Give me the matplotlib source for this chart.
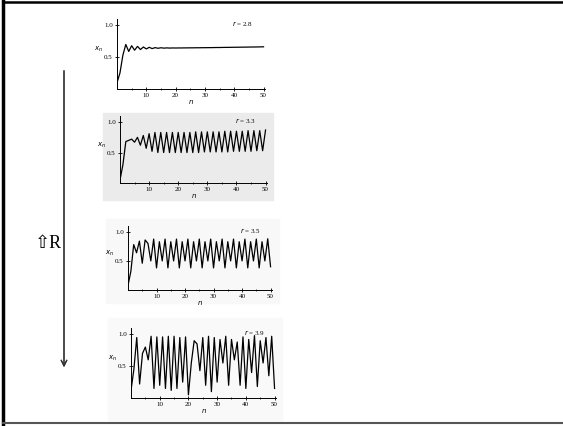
import matplotlib
matplotlib.use('Agg')
import matplotlib.pyplot as plt
from matplotlib.lines import Line2D
from matplotlib.patches import Rectangle

W, H = 563, 426

n = list(range(51))

x_r28 = [0.10, 0.25, 0.53, 0.70, 0.59, 0.68, 0.61, 0.67, 0.62, 0.66,
         0.63, 0.655, 0.635, 0.65, 0.64, 0.648, 0.642, 0.646, 0.643, 0.645,
         0.644, 0.645, 0.645, 0.646, 0.646, 0.647, 0.647, 0.648, 0.648, 0.649,
         0.649, 0.65, 0.65, 0.651, 0.652, 0.652, 0.653, 0.654, 0.654, 0.655,
         0.656, 0.656, 0.657, 0.658, 0.658, 0.659, 0.66, 0.66, 0.661, 0.662,
         0.663]

x_r33 = [0.05, 0.30, 0.68, 0.70, 0.72, 0.67, 0.75, 0.62, 0.78, 0.57,
         0.81, 0.52, 0.83, 0.50, 0.83, 0.50, 0.83, 0.50, 0.83, 0.50,
         0.83, 0.50, 0.83, 0.50, 0.83, 0.50, 0.84, 0.50, 0.84, 0.51,
         0.84, 0.51, 0.84, 0.51, 0.84, 0.51, 0.85, 0.51, 0.85, 0.52,
         0.85, 0.52, 0.85, 0.52, 0.86, 0.52, 0.86, 0.53, 0.86, 0.53,
         0.87]

x_r35 = [0.08, 0.32, 0.78, 0.64, 0.84, 0.46, 0.86, 0.80, 0.50, 0.875,
         0.38, 0.83, 0.50, 0.875, 0.38, 0.83, 0.50, 0.875, 0.38, 0.83,
         0.50, 0.875, 0.38, 0.83, 0.50, 0.875, 0.38, 0.83, 0.50, 0.875,
         0.38, 0.83, 0.50, 0.875, 0.38, 0.83, 0.50, 0.875, 0.38, 0.83,
         0.50, 0.875, 0.38, 0.83, 0.50, 0.875, 0.38, 0.83, 0.50, 0.88,
         0.40]

x_r39 = [0.12, 0.45, 0.95, 0.22, 0.70, 0.80, 0.60, 0.97, 0.15, 0.96,
         0.20, 0.96, 0.15, 0.97, 0.12, 0.97, 0.15, 0.95, 0.25, 0.96,
         0.05, 0.55, 0.90, 0.85, 0.43, 0.95, 0.20, 0.97, 0.10, 0.95,
         0.25, 0.92, 0.55, 0.97, 0.20, 0.92, 0.60, 0.88, 0.20, 0.96,
         0.15, 0.92, 0.40, 0.98, 0.18, 0.90, 0.55, 0.95, 0.35, 0.97,
         0.15]

series = [x_r28, x_r33, x_r35, x_r39]
r_labels = ['2.8', '3.3', '3.5', '3.9']
x_ticks = [10, 20, 30, 40, 50]
y_ticks = [0.5, 1.0]

# panel boxes in pixels: left, top, right, bottom
boxes = [(117, 19, 265, 89), (120, 116, 267, 183),
         (128, 226, 272, 290), (131, 328, 276, 398)]
backs = [None, (103, 113, 273, 200, '#ebebeb'),
         (106, 219, 279, 303, '#f8f8f8'), (108, 318, 282, 420, '#f9f9f9')]

plt.rcParams['font.family'] = ['Liberation Serif', 'DejaVu Serif']

fig = plt.figure(figsize=(W / 100, H / 100), dpi=100)


def frac(l, t, r, b):
    return [l / W, 1 - b / H, (r - l) / W, (b - t) / H]


for bk in backs:
    if bk is None:
        continue
    l, t, r, b, c = bk
    fig.add_artist(Rectangle((l / W, 1 - b / H), (r - l) / W, (b - t) / H,
                             transform=fig.transFigure, color=c, zorder=0))

for i, vals in enumerate(series):
    ax = fig.add_axes(frac(*boxes[i]))
    ax.patch.set_alpha(0)
    ax.plot(n, vals, color='black', lw=0.9)
    ax.set_xlim(0, 50.5)
    ax.set_ylim(0, 1.1)
    for s in ['top', 'right']:
        ax.spines[s].set_visible(False)
    for s in ['left', 'bottom']:
        ax.spines[s].set_linewidth(0.7)
    ax.set_xticks(x_ticks)
    ax.set_xticks([5, 15, 25, 35, 45], minor=True)
    ax.set_yticks(y_ticks)
    ax.set_yticklabels(['0.5', '1.0'])
    ax.tick_params(direction='inout', length=3, width=0.6, labelsize=5, pad=1.5)
    ax.tick_params(which='minor', direction='inout', length=2, width=0.5)
    ax.set_xlabel('$n$', fontsize=5, labelpad=0)
    ax.set_ylabel('$x_n$', fontsize=5, rotation=0, labelpad=4)
    ax.text(0.78, 0.93, '$r$ = ' + r_labels[i], transform=ax.transAxes,
            fontsize=5, ha='left', va='center')

# slide border
fig.add_artist(Line2D([3 / W, 3 / W], [0, 1], transform=fig.transFigure,
                      color='black', lw=2.5))
fig.add_artist(Line2D([3 / W, 1], [1 - 2 / H, 1 - 2 / H], transform=fig.transFigure,
                      color='black', lw=1.8))
fig.add_artist(Line2D([3 / W, 1], [1 - 423 / H, 1 - 423 / H], transform=fig.transFigure,
                      color='#555555', lw=1.5))

# arrow along r
fig.add_artist(plt.annotate('', xy=(64 / W, 1 - 370 / H), xytext=(64 / W, 1 - 68 / H),
                            xycoords='figure fraction',
                            arrowprops=dict(arrowstyle='->', color='#333333', lw=0.9)))
fig.text(35 / W, 1 - 243 / H, '\u21e7R', fontsize=13, va='center', ha='left',
         family=['Liberation Serif', 'DejaVu Sans'])

fig.savefig('out.png', dpi=100)
plt.close()
